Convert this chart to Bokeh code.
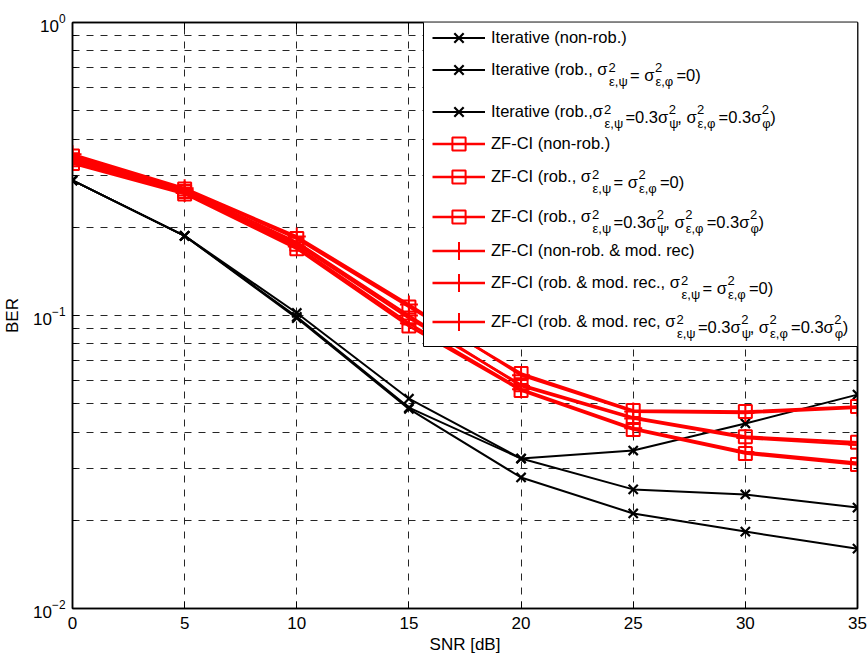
from bokeh.plotting import figure
from bokeh.models import (Range1d, FixedTicker, Legend, LegendItem, Label, BoxAnnotation,
                          LinearAxis, LogAxis)
from bokeh.embed import file_html
from bokeh.resources import INLINE

# ---------------- data ----------------
snr = [0, 5, 10, 15, 20, 25, 30, 35]

it_nonrob = [0.289, 0.187, 0.102, 0.052, 0.0325, 0.0346, 0.0428, 0.0537]
it_rob0 = [0.289, 0.187, 0.099, 0.0485, 0.0325, 0.0255, 0.0245, 0.0221]
it_rob03 = [0.289, 0.187, 0.098, 0.048, 0.028, 0.0211, 0.0183, 0.0160]

zf_nonrob = [0.350, 0.270, 0.183, 0.107, 0.0634, 0.0474, 0.0470, 0.0489]
zf_rob0 = [0.340, 0.265, 0.175, 0.098, 0.0580, 0.0449, 0.0386, 0.0369]
zf_rob03 = [0.330, 0.260, 0.169, 0.092, 0.0555, 0.0408, 0.0338, 0.0310]

zfm_nonrob = [0.355, 0.272, 0.186, 0.109, 0.0625, 0.0470, 0.0465, 0.0485]
zfm_rob0 = [0.345, 0.268, 0.178, 0.100, 0.0575, 0.0445, 0.0382, 0.0362]
zfm_rob03 = [0.335, 0.262, 0.172, 0.094, 0.0560, 0.0412, 0.0342, 0.0314]

x_ticks = [0, 5, 10, 15, 20, 25, 30, 35]
y_ticks = [0.01, 0.1, 1]
y_minor = [0.02, 0.03, 0.04, 0.05, 0.06, 0.07, 0.08, 0.09,
           0.2, 0.3, 0.4, 0.5, 0.6, 0.7, 0.8, 0.9]

# legend texts: ("n", text) normal, ("ss", superscript, subscript)
PAT_A = [("ss", "2", "ε,ψ"), ("n", "= σ"), ("ss", "2", "ε,φ"), ("n", "=0)")]
PAT_B = [("ss", "2", "ε,ψ"), ("n", "=0.3σ"), ("ss", "2", "ψ"), ("n", ", σ"),
         ("ss", "2", "ε,φ"), ("n", "=0.3σ"), ("ss", "2", "φ"), ("n", ")")]
legend_texts = [
    [("n", "Iterative (non-rob.)")],
    [("n", "Iterative (rob., σ")] + PAT_A,
    [("n", "Iterative (rob.,σ")] + PAT_B,
    [("n", "ZF-CI (non-rob.)")],
    [("n", "ZF-CI (rob., σ")] + PAT_A,
    [("n", "ZF-CI (rob., σ")] + PAT_B,
    [("n", "ZF-CI (non-rob. & mod. rec)")],
    [("n", "ZF-CI (rob. & mod. rec., σ")] + PAT_A,
    [("n", "ZF-CI (rob. & mod. rec, σ")] + PAT_B,
]

# ---------------- style / layout ----------------
FONT = "'Liberation Sans', Arial, sans-serif"
RED = "#ff0000"
BLACK = "#000000"
GRID = "#262626"

W, H = 867, 660
PAGE_FX, PAGE_FY = 70, 608   # frame left / bottom in page coords
FT, FW = 22, 787
FH = PAGE_FY - FT

p = figure(width=W, height=H, x_range=Range1d(0, 35), y_range=Range1d(0.01, 1),
           y_axis_type="log", output_backend="svg", toolbar_location=None,
           min_border_left=PAGE_FX, min_border_right=W - PAGE_FX - FW,
           min_border_top=FT, min_border_bottom=H - PAGE_FY,
           background_fill_color="white", border_fill_color="white")
p.outline_line_color = BLACK
p.outline_line_width = 1.5

def style_axis(ax):
    ax.axis_line_color = BLACK
    ax.axis_line_width = 1.5
    ax.major_tick_in = 7
    ax.major_tick_out = 0
    ax.minor_tick_in = 4
    ax.minor_tick_out = 0
    ax.major_tick_line_color = BLACK
    ax.minor_tick_line_color = BLACK
    ax.major_label_text_font = FONT
    ax.major_label_text_color = BLACK
    ax.major_label_text_font_size = "17px"
    ax.axis_label_text_font = FONT
    ax.axis_label_text_font_size = "17px"
    ax.axis_label_text_font_style = "normal"
    ax.axis_label_text_color = BLACK

xa = p.xaxis[0]
style_axis(xa)
xa.ticker = FixedTicker(ticks=x_ticks)
xa.major_label_standoff = 8
xa.axis_label = "SNR [dB]"
xa.axis_label_standoff = 3

ya = p.yaxis[0]
style_axis(ya)
ya.ticker = FixedTicker(ticks=y_ticks, minor_ticks=y_minor)
ya.major_label_standoff = 7
ya.axis_label = "BER"
ya.axis_label_standoff = 8

# box ticks on the top and right sides (no labels drawn)
top_ax = LinearAxis(ticker=FixedTicker(ticks=x_ticks))
right_ax = LogAxis(ticker=FixedTicker(ticks=y_ticks, minor_ticks=y_minor))
for ax in (top_ax, right_ax):
    style_axis(ax)
    ax.major_label_text_font_size = "1px"
    ax.major_label_text_color = None
    ax.major_label_standoff = 0
p.add_layout(top_ax, "above")
p.add_layout(right_ax, "right")

p.xgrid.ticker = FixedTicker(ticks=x_ticks)
p.xgrid.grid_line_color = GRID
p.xgrid.grid_line_dash = "7 7"
p.xgrid.grid_line_width = 1
p.ygrid.ticker = FixedTicker(ticks=y_ticks, minor_ticks=y_minor)
p.ygrid.grid_line_color = GRID
p.ygrid.grid_line_dash = "7 7"
p.ygrid.minor_grid_line_color = GRID
p.ygrid.minor_grid_line_dash = "7 7"

# ---------------- series ----------------
series = [
    (it_nonrob, BLACK, "x"), (it_rob0, BLACK, "x"), (it_rob03, BLACK, "x"),
    (zf_nonrob, RED, "square"), (zf_rob0, RED, "square"), (zf_rob03, RED, "square"),
    (zfm_nonrob, RED, "cross"), (zfm_rob0, RED, "cross"), (zfm_rob03, RED, "cross"),
]
marker_size = {"x": 13, "square": 13, "cross": 18}
line_w = {BLACK: 2.0, RED: 2.6}

renderers = []
for vals, col, mk in series:
    lr = p.line(snr, vals, line_color=col, line_width=line_w[col])
    sr = p.scatter(snr, vals, marker=mk, size=marker_size[mk], line_color=col,
                   fill_color=None, line_width=2.2 if mk == "x" else 2)
    renderers.append((lr, sr, mk))

# ---------------- legend ----------------
box = BoxAnnotation(left=421 - PAGE_FX, right=855 - PAGE_FX,
                    top=PAGE_FY - 21, bottom=PAGE_FY - 346,
                    left_units="screen", right_units="screen",
                    top_units="screen", bottom_units="screen",
                    fill_color="white", fill_alpha=1.0,
                    line_color=BLACK, line_width=1, line_alpha=1.0)
p.add_layout(box)

row_y = [37, 69, 111, 143, 176, 216, 250, 282, 321]   # page y of sample lines
row_h = {"x": 33, "square": 33, "cross": 45}           # legend glyph box height
GLYPH_X0, GLYPH_W, STANDOFF = 430, 53, 6
FS_MAIN, FS_SMALL = 16.5, 13

AW = {' ': 278, '(': 333, ')': 333, ',': 278, '.': 278, '-': 333, '=': 584,
      '&': 667, '0': 556, '2': 556, '3': 556, 'I': 278, 'Z': 611, 'F': 611,
      'C': 722, 'a': 556, 'b': 556, 'c': 500, 'd': 556, 'e': 556, 'i': 222,
      'l': 222, 'm': 833, 'n': 556, 'o': 556, 'r': 333, 't': 278, 'v': 500,
      'σ': 617, 'ε': 446, 'ψ': 712, 'φ': 726}

def tw(s, fs):
    return sum(AW.get(c, 556) for c in s) / 1000.0 * fs

def lab(px, py, text, fs):
    return Label(x=px - PAGE_FX, y=PAGE_FY - py, x_units="screen", y_units="screen",
                 text=text, text_font=FONT, text_font_size=f"{fs}px",
                 text_color=BLACK, text_baseline="alphabetic", text_align="left")

extra_labels = []
for (lr, sr, mk), segs, ly in zip(renderers, legend_texts, row_y):
    h = row_h[mk]
    leg = Legend(items=[LegendItem(label=segs[0][1], renderers=[lr, sr])],
                 location=(GLYPH_X0 - PAGE_FX, PAGE_FY - ly - h / 2.0),
                 orientation="vertical", padding=0, margin=0, spacing=0,
                 glyph_width=GLYPH_W, glyph_height=h, label_height=h,
                 label_standoff=STANDOFF, label_text_font=FONT,
                 label_text_font_size=f"{FS_MAIN}px", label_text_color=BLACK,
                 border_line_alpha=0, background_fill_alpha=0)
    p.add_layout(leg)
    x = GLYPH_X0 + GLYPH_W + STANDOFF + tw(segs[0][1], FS_MAIN)
    base = ly + 0.35 * FS_MAIN
    for seg in segs[1:]:
        if seg[0] == "n":
            extra_labels.append(lab(x, base, seg[1], FS_MAIN))
            x += tw(seg[1], FS_MAIN)
        else:
            extra_labels.append(lab(x + 0.5, base - 8, seg[1], FS_SMALL))
            extra_labels.append(lab(x + 1, base + 6, seg[2], FS_SMALL))
            x += 22 if len(seg[2]) > 1 else 9

for l in extra_labels:
    p.add_layout(l)

open("out.html", "w").write(file_html(p, INLINE))
